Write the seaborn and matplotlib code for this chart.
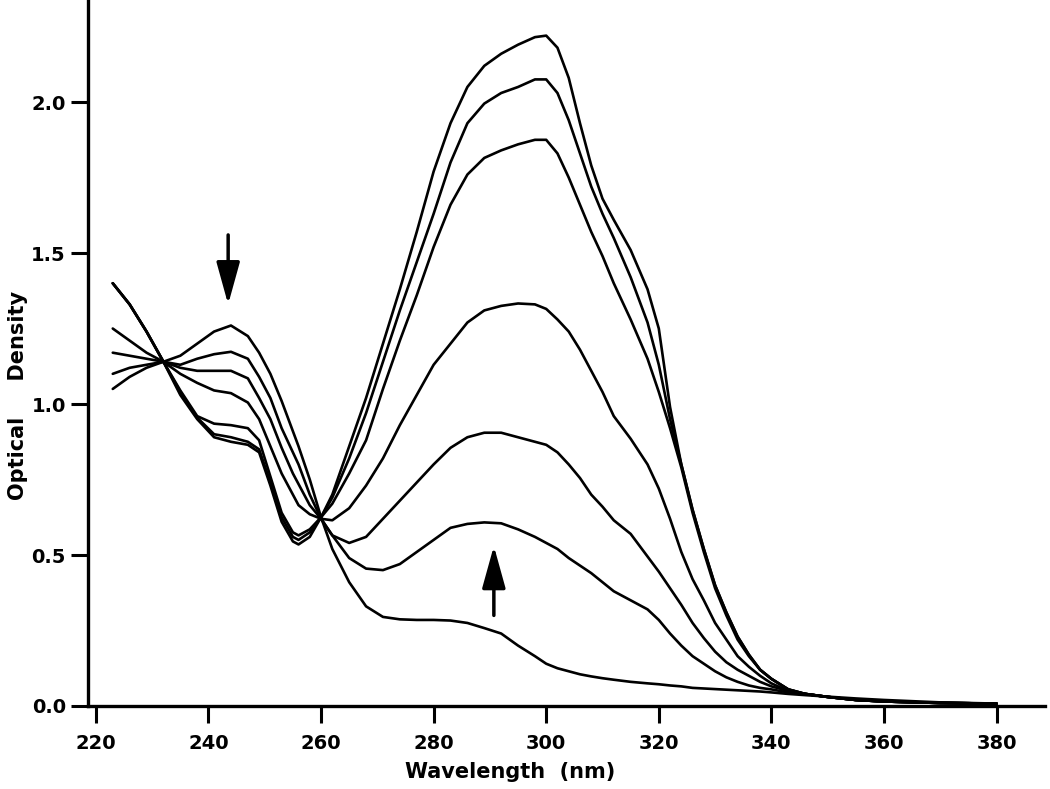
import numpy as np
import pandas as pd
import matplotlib
matplotlib.use("Agg")
import matplotlib.pyplot as plt
import seaborn as sns

# wavelength grid (nm)
wavelength = [223, 226, 229, 232, 235, 238, 241, 244, 247, 249, 251, 253, 255, 256, 258, 260,
              262, 265, 268, 271, 274, 277, 280, 283, 286, 289, 292, 295, 298,
              300, 302, 304, 306, 308, 310, 312, 315, 318, 320,
              322, 324, 326, 328, 330, 332, 334, 336, 338, 340,
              343, 346, 350, 355, 360, 370, 380]

# optical density of each scan (final scan first, initial scan last)
scan_a = [1.40, 1.33, 1.24, 1.14, 1.03, 0.95, 0.89, 0.875, 0.865, 0.84, 0.73, 0.61, 0.545, 0.535, 0.56, 0.625,
          0.70, 0.86, 1.02, 1.20, 1.38, 1.57, 1.77, 1.93, 2.05, 2.12, 2.16, 2.19, 2.215,
          2.22, 2.18, 2.08, 1.93, 1.79, 1.68, 1.61, 1.51, 1.38, 1.25,
          0.99, 0.80, 0.65, 0.52, 0.40, 0.31, 0.23, 0.17, 0.12, 0.09,
          0.055, 0.04, 0.03, 0.02, 0.015, 0.01, 0.008]
scan_b = [1.40, 1.33, 1.24, 1.14, 1.04, 0.955, 0.90, 0.89, 0.875, 0.85, 0.74, 0.625, 0.56, 0.55, 0.575, 0.625,
          0.69, 0.82, 0.97, 1.14, 1.31, 1.47, 1.63, 1.80, 1.93, 1.995, 2.03, 2.05, 2.075,
          2.075, 2.03, 1.94, 1.83, 1.72, 1.63, 1.55, 1.42, 1.27, 1.13,
          0.95, 0.80, 0.65, 0.52, 0.40, 0.31, 0.23, 0.17, 0.12, 0.09,
          0.055, 0.04, 0.03, 0.02, 0.015, 0.01, 0.008]
scan_c = [1.40, 1.33, 1.24, 1.14, 1.045, 0.96, 0.935, 0.93, 0.92, 0.88, 0.76, 0.64, 0.575, 0.565, 0.585, 0.625,
          0.67, 0.77, 0.88, 1.05, 1.21, 1.36, 1.52, 1.66, 1.76, 1.815, 1.84, 1.86, 1.875,
          1.875, 1.83, 1.75, 1.66, 1.57, 1.49, 1.40, 1.28, 1.15, 1.04,
          0.92, 0.79, 0.64, 0.51, 0.39, 0.30, 0.22, 0.165, 0.12, 0.09,
          0.055, 0.04, 0.03, 0.02, 0.015, 0.01, 0.008]
scan_d = [1.25, 1.21, 1.17, 1.14, 1.10, 1.07, 1.045, 1.036, 1.005, 0.95, 0.86, 0.77, 0.70, 0.665, 0.635, 0.62,
          0.615, 0.655, 0.73, 0.82, 0.93, 1.03, 1.13, 1.20, 1.27, 1.31, 1.325, 1.333, 1.33,
          1.315, 1.28, 1.24, 1.18, 1.11, 1.04, 0.96, 0.885, 0.80, 0.72,
          0.62, 0.51, 0.42, 0.35, 0.275, 0.22, 0.165, 0.13, 0.10, 0.075,
          0.05, 0.04, 0.03, 0.02, 0.015, 0.01, 0.008]
scan_e = [1.17, 1.16, 1.15, 1.14, 1.12, 1.11, 1.11, 1.11, 1.085, 1.02, 0.95, 0.855, 0.77, 0.735, 0.665, 0.62,
          0.565, 0.54, 0.56, 0.62, 0.68, 0.74, 0.80, 0.855, 0.89, 0.905, 0.905, 0.89, 0.875,
          0.865, 0.84, 0.80, 0.755, 0.70, 0.66, 0.615, 0.57, 0.495, 0.445,
          0.39, 0.335, 0.275, 0.225, 0.18, 0.145, 0.12, 0.10, 0.08, 0.065,
          0.05, 0.04, 0.03, 0.02, 0.015, 0.01, 0.008]
scan_f = [1.10, 1.12, 1.13, 1.14, 1.13, 1.15, 1.165, 1.173, 1.15, 1.09, 1.02, 0.92, 0.84, 0.80, 0.70, 0.62,
          0.565, 0.49, 0.455, 0.45, 0.47, 0.51, 0.55, 0.59, 0.603, 0.608, 0.605, 0.585, 0.56,
          0.54, 0.52, 0.49, 0.465, 0.44, 0.41, 0.38, 0.35, 0.32, 0.285,
          0.24, 0.20, 0.165, 0.14, 0.115, 0.095, 0.08, 0.068, 0.06, 0.055,
          0.045, 0.04, 0.03, 0.02, 0.015, 0.01, 0.008]
scan_g = [1.05, 1.09, 1.12, 1.14, 1.16, 1.20, 1.24, 1.26, 1.225, 1.17, 1.10, 1.01, 0.91, 0.86, 0.75, 0.625,
          0.52, 0.41, 0.33, 0.295, 0.287, 0.285, 0.285, 0.283, 0.275, 0.258, 0.24, 0.20, 0.165,
          0.14, 0.125, 0.115, 0.105, 0.098, 0.092, 0.087, 0.08, 0.075, 0.072,
          0.068, 0.065, 0.06, 0.058, 0.056, 0.054, 0.052, 0.05, 0.048, 0.045,
          0.04, 0.036, 0.031, 0.025, 0.02, 0.012, 0.008]

scans = {"a": scan_a, "b": scan_b, "c": scan_c, "d": scan_d,
         "e": scan_e, "f": scan_f, "g": scan_g}

# long form table for seaborn
rows = []
for name, vals in scans.items():
    for w, v in zip(wavelength, vals):
        rows.append({"scan": name, "wavelength": w, "od": v})
df = pd.DataFrame(rows)

sns.set_style("ticks")
plt.rcParams["font.family"] = ["DejaVu Sans"]

fig = plt.figure(figsize=(10.5, 7.89), dpi=100)
ax = fig.add_axes([0.0838, 0.1052, 0.9114, 0.8948])

sns.lineplot(data=df, x="wavelength", y="od", units="scan", estimator=None,
             color="black", linewidth=1.9, ax=ax, legend=False)

# arrows showing direction of change
arrow_style = dict(arrowstyle="-|>,head_length=1.3,head_width=0.36",
                   color="black", lw=2.5, mutation_scale=20, shrinkA=0, shrinkB=0)
ax.annotate("", xy=(243.5, 1.33), xytext=(243.5, 1.56), arrowprops=arrow_style)
ax.annotate("", xy=(290.7, 0.53), xytext=(290.7, 0.30), arrowprops=arrow_style)

ax.set_xlim(218.6, 388.6)
ax.set_ylim(0, 2.338)
ax.set_xticks(np.arange(220, 381, 20))
ax.set_yticks([0.0, 0.5, 1.0, 1.5, 2.0])
ax.set_yticklabels(["0.0", "0.5", "1.0", "1.5", "2.0"])

ax.set_xlabel("Wavelength  (nm)", fontsize=15, fontweight="bold", color="black")
ax.set_ylabel("Optical     Density", fontsize=15, fontweight="bold", color="black")
ax.xaxis.set_label_coords(0.441, -0.08)
ax.yaxis.set_label_coords(-0.063, 0.44)

ax.tick_params(axis="both", direction="out", width=2.2, labelsize=14,
               colors="black", labelcolor="black")
ax.tick_params(axis="x", length=12, pad=8)
ax.tick_params(axis="y", length=12, pad=4)
for lab in ax.get_xticklabels() + ax.get_yticklabels():
    lab.set_fontweight("bold")

sns.despine(ax=ax)
ax.spines["left"].set_linewidth(2.4)
ax.spines["bottom"].set_linewidth(2.4)
ax.spines["left"].set_color("black")
ax.spines["bottom"].set_color("black")

fig.savefig("out.png", dpi=100)
